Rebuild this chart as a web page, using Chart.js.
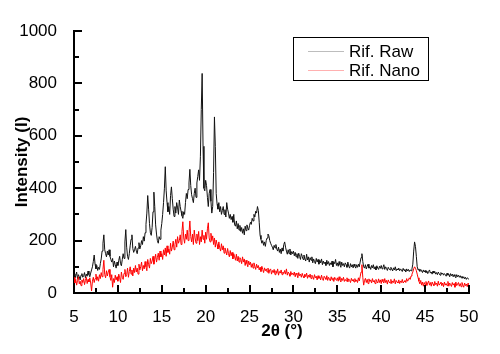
<!DOCTYPE html>
<html>
<head>
<meta charset="utf-8">
<script src="https://cdn.jsdelivr.net/npm/chart.js@4"></script>
<style>
  html, body { margin: 0; padding: 0; background: #fff; }
  #wrap { width: 500px; height: 354px; position: relative; }
</style>
</head>
<body>
<div id="wrap"><canvas id="xrd" width="500" height="354"></canvas></div>
<script>
// ---- Data ----
const angleStart = 5;
const angleStep = 0.1;

// Rif. Raw intensity, one value every 0.1° from 5.0 to 50.0
const rawIntensity = [
  72, 58, 66, 80, 55, 70, 62, 50, 68, 74,
  60, 66, 78, 58, 72, 64, 84, 70, 62, 76,
  88, 100, 120, 145, 110, 92, 105, 86, 98, 90,
  112, 130, 160, 190, 222, 165, 150, 138, 160, 145,
  165, 140, 128, 118, 132, 100, 122, 108, 95, 118,
  105, 125, 140, 112, 104, 128, 150, 132, 195, 242,
  175, 140, 128, 150, 180, 205, 222, 170, 155, 165,
  178, 160, 150, 172, 192, 168, 180, 200, 185, 215,
  198, 230, 262, 305, 372, 320, 265, 230, 220, 250,
  310, 385, 330, 260, 225, 200, 190, 215, 205, 240,
  265, 300, 345, 400, 482, 390, 345, 310, 330, 300,
  372, 405, 360, 320, 292, 330, 305, 345, 325, 300,
  355, 330, 312, 295, 285, 310, 300, 345, 380, 360,
  395, 420, 472, 410, 375, 360, 345, 380, 400, 365,
  420, 445, 470, 430, 520, 700, 838, 560, 400, 390,
  430, 410, 365, 330, 380, 395, 350, 305, 330, 460,
  672, 560, 380, 340, 320, 345, 310, 330, 300, 315,
  330, 300, 318, 290, 345, 320, 305, 285, 300, 280,
  292, 270, 300, 260, 255, 275, 245, 265, 240, 258,
  235, 250, 228, 245, 222, 255, 238, 260, 248, 240,
  258, 270, 262, 285, 275, 300, 290, 312, 305, 330,
  315, 270, 220, 205, 190, 200, 182, 195, 178, 200,
  210, 225, 218, 200, 190, 182, 175, 165, 182, 172,
  185, 168, 160, 175, 155, 168, 150, 172, 160, 185,
  195, 175, 160, 148, 165, 150, 168, 145, 158, 150,
  160, 142, 155, 138, 150, 132, 152, 140, 128, 150,
  140, 128, 145, 130, 122, 148, 126, 138, 118, 135,
  125, 138, 115, 130, 120, 112, 132, 118, 128, 110,
  125, 115, 130, 108, 122, 112, 118, 105, 125, 110,
  120, 105, 115, 108, 122, 100, 118, 112, 128, 105,
  115, 102, 120, 108, 98, 118, 105, 112, 100, 115,
  108, 98, 118, 102, 95, 112, 100, 108, 96, 110,
  102, 95, 108, 98, 110, 100, 118, 135, 150, 120,
  100, 95, 108, 92, 102, 110, 95, 100, 90, 105,
  96, 108, 92, 100, 88, 104, 95, 90, 102, 94,
  105, 92, 98, 108, 90, 100, 94, 86, 98, 92,
  88, 98, 92, 84, 96, 88, 100, 85, 92, 88,
  95, 85, 92, 88, 82, 94, 86, 90, 80, 92,
  84, 90, 82, 88, 85, 92, 110, 160, 195, 178,
  140, 100, 88, 92, 82, 90, 84, 78, 88, 80,
  86, 78, 84, 74, 82, 88, 76, 80, 72, 84,
  76, 82, 72, 78, 70, 80, 74, 68, 78, 72,
  76, 68, 74, 70, 64, 76, 68, 72, 62, 74,
  66, 72, 62, 70, 64, 58, 70, 62, 68, 60,
  66, 58, 64, 56, 62, 54, 60, 52, 58, 55,
  52
];

// Rif. Nano intensity, same angles
const nanoIntensity = [
  60, 38, 52, 30, 48, 62, 35, 45, 28, 50,
  40, 55, 32, 48, 60, 36, 52, 42, 58, 38,
  8, 45, 60, 40, 55, 72, 48, 62, 45, 70,
  55, 78, 62, 90, 125, 70, 58, 85, 65, 80,
  90, 62, 48, 70, 22, 55, 40, 68, 50, 62,
  45, 72, 58, 40, 80, 60, 52, 75, 90, 62,
  70, 95, 60, 82, 100, 72, 88, 65, 95, 78,
  105, 80, 95, 72, 110, 88, 100, 118, 85, 105,
  92, 120, 100, 85, 128, 108, 95, 132, 112, 122,
  140, 110, 128, 148, 118, 135, 152, 125, 160, 138,
  150, 128, 165, 145, 172, 140, 180, 155, 168, 148,
  190, 160, 175, 198, 165, 185, 205, 175, 215, 190,
  200, 222, 185, 235, 272, 210, 190, 225, 205, 240,
  200, 230, 275, 215, 195, 225, 185, 240, 210, 190,
  225, 200, 235, 185, 215, 195, 240, 205, 220, 190,
  232, 205, 245, 268, 210, 195, 228, 200, 218, 185,
  210, 175, 202, 185, 168, 195, 172, 160, 188, 165,
  180, 152, 172, 160, 145, 170, 150, 138, 162, 142,
  155, 130, 150, 138, 125, 148, 122, 140, 118, 135,
  128, 112, 138, 118, 130, 105, 125, 112, 100, 122,
  108, 118, 98, 112, 95, 115, 102, 90, 110, 96,
  105, 88, 98, 82, 102, 90, 78, 96, 85, 92,
  80, 95, 75, 88, 92, 72, 86, 78, 90, 70,
  85, 75, 92, 68, 82, 76, 88, 70, 80, 74,
  86, 72, 92, 68, 80, 74, 64, 82, 70, 76,
  68, 80, 62, 76, 70, 58, 78, 66, 72, 60,
  75, 64, 58, 72, 62, 76, 56, 68, 60, 72,
  55, 68, 62, 52, 70, 58, 64, 50, 66, 56,
  62, 50, 68, 55, 48, 64, 58, 52, 66, 48,
  60, 54, 46, 62, 50, 58, 44, 60, 52, 48,
  58, 45, 62, 50, 42, 56, 48, 60, 44, 52,
  46, 58, 42, 54, 48, 40, 56, 46, 52, 42,
  55, 44, 50, 40, 58, 46, 62, 80, 108, 60,
  30, 48, 56, 40, 52, 36, 54, 44, 50, 38,
  55, 42, 48, 36, 52, 44, 38, 54, 40, 50,
  36, 52, 44, 38, 55, 40, 48, 34, 50, 42,
  38, 52, 36, 46, 40, 54, 35, 48, 42, 38,
  50, 36, 46, 40, 52, 38, 44, 48, 40, 55,
  45, 50, 58, 52, 65, 72, 80, 92, 100, 95,
  85, 72, 58, 45, 35, 48, 30, 42, 26, 40,
  32, 44, 28, 38, 46, 30, 40, 26, 42, 34,
  28, 44, 32, 38, 26, 45, 30, 36, 42, 28,
  38, 24, 42, 30, 36, 28, 44, 26, 38, 32,
  25, 40, 30, 36, 22, 42, 28, 34, 40, 26,
  36, 24, 40, 30, 22, 38, 28, 34, 24, 38,
  30
];

const xMajorTicks = [5, 10, 15, 20, 25, 30, 35, 40, 45, 50];
const xMinorTicks = [7.5, 12.5, 17.5, 22.5, 27.5, 32.5, 37.5, 42.5, 47.5];
const yMajorTicks = [0, 200, 400, 600, 800, 1000];
const yMinorTicks = [100, 300, 500, 700, 900];

const seriesNames = ['Rif. Raw', 'Rif. Nano'];
const seriesColors = ['#111111', '#ff0000'];
const legendLineColors = ['#bdbdbd', '#ffb0b0'];

// ---- Build points ----
const toPoints = (vals) => vals.map((v, i) => ({ x: +(angleStart + i * angleStep).toFixed(1), y: v }));

const FONT = '"Liberation Sans", Arial, sans-serif';

// Inward major/minor ticks, axis titles and boxed legend
const decorations = {
  id: 'decorations',
  afterDraw(chart) {
    const { ctx, chartArea: a, scales: { x, y } } = chart;
    ctx.save();
    ctx.strokeStyle = '#000';
    ctx.lineWidth = 2;
    ctx.beginPath();
    xMajorTicks.forEach((v) => { const p = Math.round(x.getPixelForValue(v)); ctx.moveTo(p, a.bottom); ctx.lineTo(p, a.bottom - 8); });
    xMinorTicks.forEach((v) => { const p = Math.round(x.getPixelForValue(v)); ctx.moveTo(p, a.bottom); ctx.lineTo(p, a.bottom - 5); });
    yMajorTicks.forEach((v) => { const p = Math.round(y.getPixelForValue(v)); ctx.moveTo(a.left, p); ctx.lineTo(a.left + 8, p); });
    yMinorTicks.forEach((v) => { const p = Math.round(y.getPixelForValue(v)); ctx.moveTo(a.left, p); ctx.lineTo(a.left + 5, p); });
    ctx.stroke();

    // axis titles
    ctx.fillStyle = '#000';
    ctx.font = 'bold 17px ' + FONT;
    ctx.textAlign = 'center';
    ctx.textBaseline = 'middle';
    ctx.fillText('2θ (°)', 282, 331);
    ctx.save();
    ctx.translate(22, (a.top + a.bottom) / 2);
    ctx.rotate(-Math.PI / 2);
    ctx.fillText('Intensity (I)', 0, 0);
    ctx.restore();

    // legend
    ctx.lineWidth = 1;
    ctx.strokeStyle = '#000';
    ctx.strokeRect(293.5, 37.5, 135, 43);
    ctx.font = '17px ' + FONT;
    ctx.textAlign = 'left';
    ctx.textBaseline = 'alphabetic';
    seriesNames.forEach((name, i) => {
      const ly = 51 + i * 19;
      ctx.strokeStyle = legendLineColors[i];
      ctx.beginPath();
      ctx.moveTo(308, ly + 0.5);
      ctx.lineTo(344, ly + 0.5);
      ctx.stroke();
      ctx.fillStyle = '#000';
      ctx.fillText(name, 349, ly + 5.5);
    });
    ctx.restore();
  }
};

new Chart(document.getElementById('xrd'), {
  type: 'line',
  data: {
    datasets: [
      {
        label: seriesNames[1],
        data: toPoints(nanoIntensity),
        borderColor: seriesColors[1],
        borderWidth: 1,
        pointRadius: 0,
        tension: 0,
      },
      {
        label: seriesNames[0],
        data: toPoints(rawIntensity),
        borderColor: seriesColors[0],
        borderWidth: 1,
        pointRadius: 0,
        tension: 0,
      },
    ],
  },
  options: {
    responsive: false,
    devicePixelRatio: 1,
    animation: false,
    layout: { padding: { left: 0, right: 31, top: 31, bottom: 0 } },
    plugins: {
      legend: { display: false },
      tooltip: { enabled: false },
    },
    scales: {
      x: {
        type: 'linear',
        min: 5,
        max: 50,
        grid: { display: false },
        border: { display: true, color: '#000', width: 2 },
        ticks: {
          stepSize: 5,
          autoSkip: false,
          maxRotation: 0,
          padding: 6,
          color: '#000',
          font: { family: FONT, size: 17 },
          callback: (v) => String(v),
        },
        afterFit: (s) => { s.height = 61; },
      },
      y: {
        min: 0,
        max: 1000,
        grid: { display: false },
        border: { display: true, color: '#000', width: 2 },
        ticks: {
          stepSize: 200,
          padding: 9,
          color: '#000',
          font: { family: FONT, size: 17 },
          callback: (v) => String(v),
        },
        afterFit: (s) => { s.width = 74; },
      },
    },
  },
  plugins: [decorations],
});
</script>
</body>
</html>
